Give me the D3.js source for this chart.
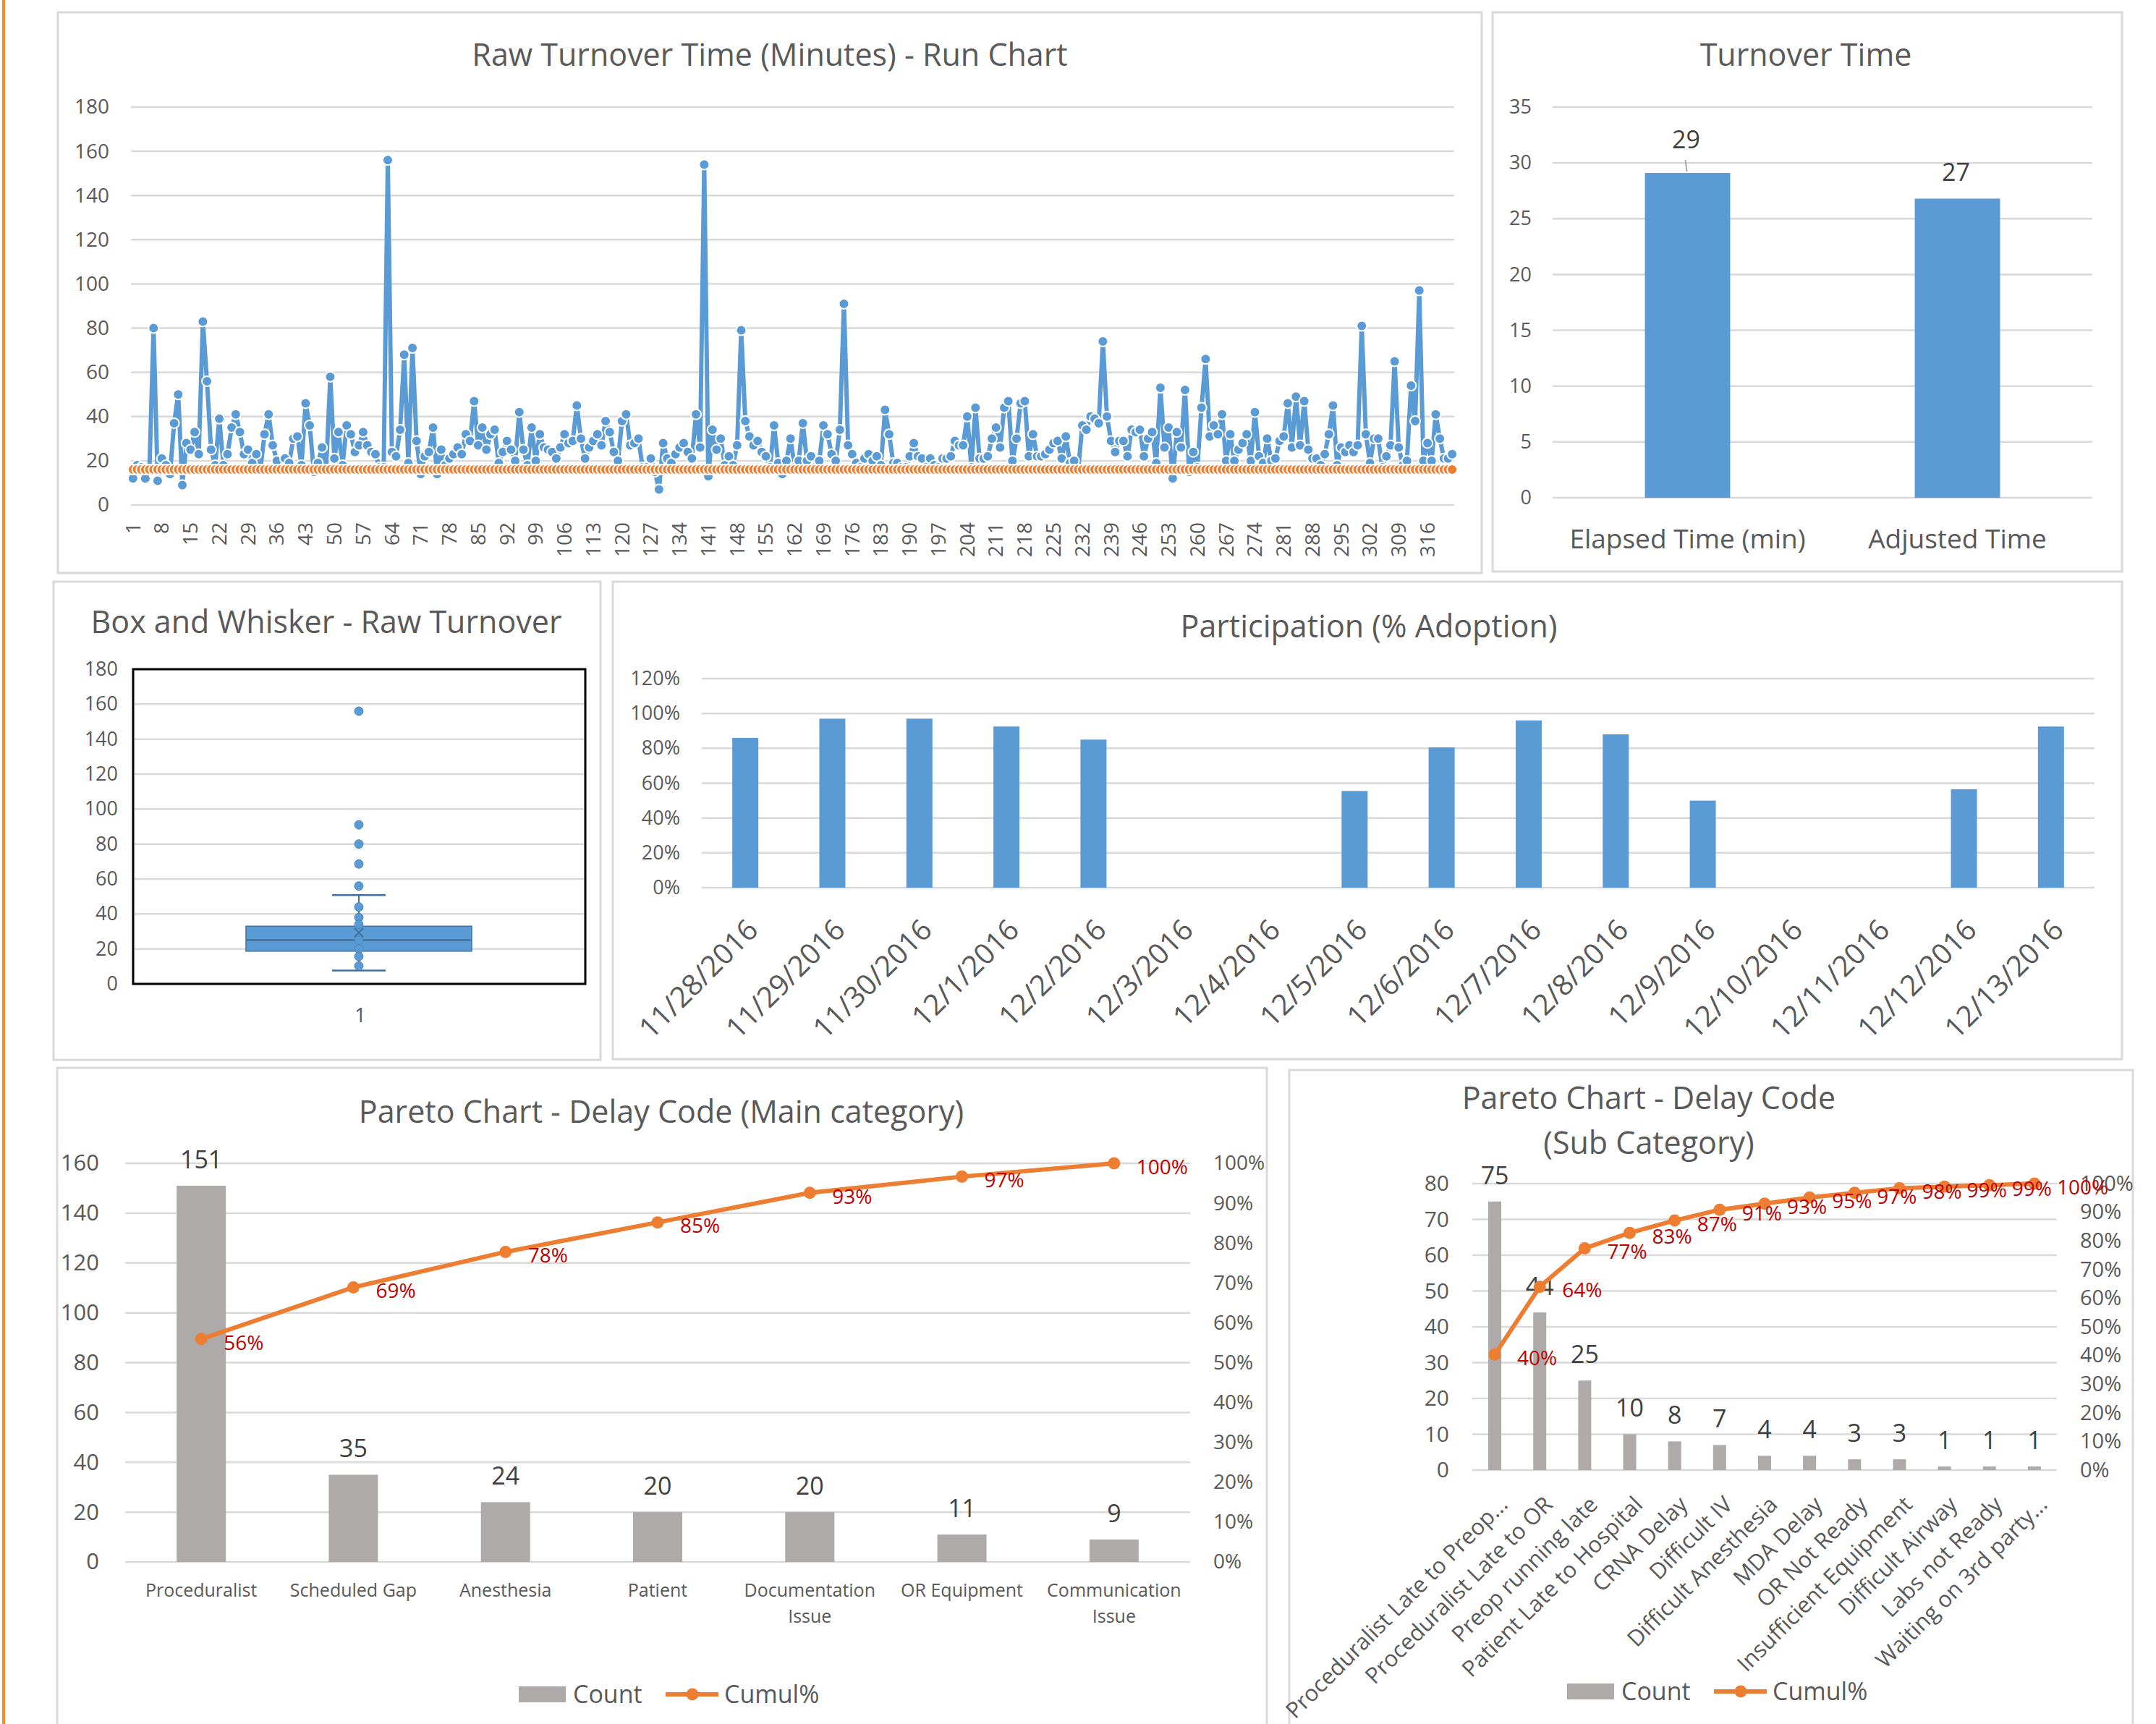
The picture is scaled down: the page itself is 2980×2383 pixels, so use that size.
<!DOCTYPE html>
<html lang="en">
<head>
<meta charset="UTF-8">
<title>Turnover Dashboard</title>
<script src="https://d3js.org/d3.v7.min.js"></script>
<style>
    body { margin: 0; background: #fff; }
    svg text { font-family: "Open Sans", sans-serif; fill: #595959; }
    .title { font-size: 43px; text-anchor: middle; }
    .panel { fill: #fff; stroke: #d9d9d9; stroke-width: 3; }
    .dataLabel { fill: #404040; text-anchor: middle; }
    .pctLabel { fill: #c00000; }
</style>
</head>
<body>
<script>
// ---- data ----
const runValues = [
    12, 18, 17, 12, 16, 80, 11, 21, 18, 14, 37, 50, 9, 28, 25, 33, 23, 83, 56, 25,
    18, 39, 18, 23, 35, 41, 33, 23, 25, 19, 23, 16, 32, 41, 27, 20, 16, 21, 19, 30,
    31, 18, 46, 36, 15, 19, 26, 16, 58, 21, 33, 18, 36, 32, 24, 27, 33, 27, 24, 23,
    17, 17, 156, 24, 22, 34, 68, 19, 71, 29, 14, 22, 24, 35, 14, 25, 18, 21, 23, 26,
    23, 32, 29, 47, 27, 35, 25, 32, 34, 19, 24, 29, 25, 20, 42, 25, 18, 35, 20, 32,
    26, 25, 24, 21, 26, 32, 28, 29, 45, 30, 21, 26, 29, 32, 27, 38, 33, 24, 20, 38,
    41, 27, 28, 30, 17, 17, 21, 15, 7, 28, 21, 19, 23, 26, 28, 24, 21, 41, 26, 154,
    13, 34, 25, 30, 18, 22, 18, 27, 79, 38, 31, 27, 29, 24, 22, 17, 36, 19, 14, 20,
    30, 17, 20, 37, 20, 22, 17, 20, 36, 32, 23, 20, 34, 91, 27, 23, 19, 17, 21, 23,
    20, 22, 18, 43, 32, 19, 19, 17, 17, 22, 28, 22, 21, 17, 21, 18, 17, 21, 21, 22,
    29, 27, 27, 40, 17, 44, 21, 21, 22, 30, 35, 26, 44, 47, 20, 30, 46, 47, 22, 32,
    22, 22, 23, 25, 28, 29, 21, 31, 19, 20, 16, 36, 34, 40, 39, 37, 74, 40, 29, 24,
    29, 29, 22, 34, 33, 34, 22, 30, 33, 19, 53, 26, 35, 12, 33, 26, 52, 15, 24, 17,
    44, 66, 31, 36, 32, 41, 20, 32, 20, 25, 28, 32, 20, 42, 22, 19, 30, 20, 21, 29,
    31, 46, 26, 49, 27, 47, 25, 21, 21, 18, 23, 32, 45, 18, 26, 24, 27, 24, 27, 81,
    32, 19, 30, 30, 17, 22, 27, 65, 26, 18, 20, 54, 38, 97, 20, 28, 20, 41, 30, 21,
    21, 23
];
const runTarget = 16;
const runYTicks = d3.range(0, 181, 20);

const turnoverCats = ["Elapsed Time (min)", "Adjusted Time"];
const turnoverValues = [29.1, 26.8];
const turnoverTicks = d3.range(0, 36, 5);

const boxStats = { low: 7.7, q1: 18.7, median: 25, q3: 33, high: 50.8, mean: 29.4 };
const boxOutliers = [156, 91, 80, 68.6, 56];
const boxInner = [44, 38, 34, 25, 20, 15.7, 10.3];
const boxTicks = d3.range(0, 181, 20);

const partDates = ["11/28/2016", "11/29/2016", "11/30/2016", "12/1/2016", "12/2/2016", "12/3/2016",
    "12/4/2016", "12/5/2016", "12/6/2016", "12/7/2016", "12/8/2016", "12/9/2016", "12/10/2016",
    "12/11/2016", "12/12/2016", "12/13/2016"];
const partValues = [0.86, 0.97, 0.97, 0.925, 0.85, null, null, 0.555, 0.805, 0.96, 0.88, 0.50,
    null, null, 0.565, 0.925];
const partTicks = [0, 0.2, 0.4, 0.6, 0.8, 1.0, 1.2];

const mainCats = ["Proceduralist", "Scheduled Gap", "Anesthesia", "Patient", "Documentation Issue",
    "OR Equipment", "Communication Issue"];
const mainCounts = [151, 35, 24, 20, 20, 11, 9];

const subCats = ["Proceduralist Late to Preop...", "Proceduralist Late to OR", "Preop running late",
    "Patient Late to Hospital", "CRNA Delay", "Difficult IV", "Difficult Anesthesia", "MDA Delay",
    "OR Not Ready", "Insufficient Equipment", "Difficult Airway", "Labs not Ready",
    "Waiting on 3rd party..."];
const subCounts = [75, 44, 25, 10, 8, 7, 4, 4, 3, 3, 1, 1, 1];

const pctTicks = d3.range(11).map(i => i / 10);

// ---- page ----
const W = 2980, H = 2383;
const BLUE = "#5b9bd5", ORANGE = "#ed7d31", GRAY = "#aeaaaa", GRID = "#d9d9d9";

const svg = d3.select("body").append("svg")
    .attr("width", W)
    .attr("height", H)
    .style("display", "block")
    .style("background", "#fff");

svg.append("rect").attr("x", 3).attr("y", 0).attr("width", 4).attr("height", H).attr("fill", "#f5901e");

function panel(x, y, w, h) {
    svg.append("rect").attr("class", "panel").attr("x", x).attr("y", y).attr("width", w).attr("height", h);
}

function title(x, y, lines, gap = 62) {
    lines.forEach((t, i) => {
        svg.append("text").attr("class", "title")
            .attr("x", x).attr("y", y + i * gap).attr("dy", "0.35em").text(t);
    });
}

function grid(scale, ticks, x0, x1) {
    svg.append("g").selectAll("line").data(ticks).join("line")
        .attr("x1", x0).attr("x2", x1)
        .attr("y1", d => scale(d)).attr("y2", d => scale(d))
        .attr("stroke", GRID).attr("stroke-width", 2.5);
}

function styleAxis(g, size) {
    g.attr("font-family", null).attr("font-size", null);
    g.select(".domain").remove();
    g.selectAll("text").style("font-size", size + "px");
    return g;
}

function leftAxis(scale, ticks, x, size, fmt = d3.format("d")) {
    const g = svg.append("g").attr("transform", `translate(${x},0)`)
        .call(d3.axisLeft(scale).tickValues(ticks).tickSize(0).tickPadding(0).tickFormat(fmt));
    return styleAxis(g, size);
}

function rightAxis(scale, ticks, x, size, fmt) {
    const g = svg.append("g").attr("transform", `translate(${x},0)`)
        .call(d3.axisRight(scale).tickValues(ticks).tickSize(0).tickPadding(0).tickFormat(fmt));
    return styleAxis(g, size);
}

// ================= Run chart =================
panel(80, 17, 1968, 775);
title(1064, 76, ["Raw Turnover Time (Minutes) - Run Chart"]);
{
    const xs = d3.scaleBand().domain(runValues.map((d, i) => i + 1)).range([181, 2010]);
    const ys = d3.scaleLinear().domain([0, 180]).range([698, 148]);
    const cx = i => xs(i + 1) + xs.bandwidth() / 2;

    grid(ys, runYTicks, 181, 2010);
    leftAxis(ys, runYTicks, 151, 28);

    const xa = svg.append("g").attr("transform", "translate(0,698)")
        .call(d3.axisBottom(xs).tickSize(0).tickValues(xs.domain().filter(d => (d - 1) % 7 === 0)));
    styleAxis(xa, 28);
    xa.selectAll("text")
        .attr("transform", "rotate(-90)")
        .attr("x", -24).attr("y", 0).attr("dy", "0.35em")
        .style("text-anchor", "end");

    const line = d3.line().x((d, i) => cx(i)).y(d => ys(d));

    svg.append("path").datum(runValues).attr("d", line)
        .attr("fill", "none").attr("stroke", BLUE).attr("stroke-width", 6).attr("stroke-linejoin", "round");
    svg.append("g").selectAll("circle").data(runValues).join("circle")
        .attr("cx", (d, i) => cx(i)).attr("cy", d => ys(d)).attr("r", 7)
        .attr("fill", BLUE).attr("stroke", "#fff").attr("stroke-width", 2);

    const target = runValues.map(() => runTarget);
    svg.append("path").datum(target).attr("d", line)
        .attr("fill", "none").attr("stroke", ORANGE).attr("stroke-width", 6);
    svg.append("g").selectAll("circle").data(target).join("circle")
        .attr("cx", (d, i) => cx(i)).attr("cy", d => ys(d)).attr("r", 7)
        .attr("fill", ORANGE).attr("stroke", "#fff").attr("stroke-width", 2);
}

// ================= Turnover Time =================
panel(2063, 17, 870, 773);
title(2496, 76, ["Turnover Time"]);
{
    const xs = d3.scaleBand().domain(turnoverCats).range([2146, 2892]);
    const ys = d3.scaleLinear().domain([0, 35]).range([688, 148]);
    const bw = xs.bandwidth() * 0.316;

    grid(ys, turnoverTicks, 2146, 2892);
    leftAxis(ys, turnoverTicks, 2117, 27);

    svg.append("g").selectAll("rect").data(turnoverValues).join("rect")
        .attr("x", (d, i) => xs(turnoverCats[i]) + xs.bandwidth() / 2 - bw / 2)
        .attr("y", d => ys(d)).attr("width", bw).attr("height", d => ys(0) - ys(d))
        .attr("fill", BLUE);

    // first label was nudged up in the original, with a leader line
    const lift = [46, 36];
    turnoverValues.forEach((v, i) => {
        const x = xs(turnoverCats[i]) + xs.bandwidth() / 2;
        svg.append("text").attr("class", "dataLabel")
            .attr("x", x - 2).attr("y", ys(v) - lift[i]).attr("dy", "0.35em")
            .style("font-size", "34px").text(d3.format(".0f")(v));
        if (lift[i] > 40) {
            svg.append("line").attr("x1", x - 3).attr("y1", ys(v) - 18).attr("x2", x - 1).attr("y2", ys(v) - 2)
                .attr("stroke", "#a6a6a6").attr("stroke-width", 2);
        }
    });

    svg.append("g").selectAll("text").data(turnoverCats).join("text")
        .attr("x", d => xs(d) + xs.bandwidth() / 2).attr("y", 745).attr("dy", "0.35em")
        .attr("text-anchor", "middle").style("font-size", "37px").text(d => d);
}

// ================= Box and Whisker =================
panel(74, 804, 756, 661);
title(451, 860, ["Box and Whisker - Raw Turnover"]);
{
    const ys = d3.scaleLinear().domain([0, 180]).range([1360, 925]);
    const cx = 496;

    grid(ys, boxTicks, 186, 807);
    svg.append("rect").attr("x", 184).attr("y", 925).attr("width", 625).attr("height", 435)
        .attr("fill", "none").attr("stroke", "#000").attr("stroke-width", 3);
    leftAxis(ys, boxTicks, 163, 27);

    // whiskers
    svg.append("line").attr("x1", cx).attr("x2", cx).attr("y1", ys(boxStats.high)).attr("y2", ys(boxStats.low))
        .attr("stroke", "#41719c").attr("stroke-width", 2);
    [boxStats.high, boxStats.low].forEach(v => {
        svg.append("line").attr("x1", cx - 37).attr("x2", cx + 37).attr("y1", ys(v)).attr("y2", ys(v))
            .attr("stroke", "#41719c").attr("stroke-width", 2.5);
    });
    svg.append("rect").attr("x", 340).attr("y", ys(boxStats.q3)).attr("width", 312)
        .attr("height", ys(boxStats.q1) - ys(boxStats.q3))
        .attr("fill", BLUE).attr("stroke", "#41719c").attr("stroke-width", 1.5);
    svg.append("line").attr("x1", 340).attr("x2", 652).attr("y1", ys(boxStats.median)).attr("y2", ys(boxStats.median))
        .attr("stroke", "#41719c").attr("stroke-width", 2.5);

    svg.append("g").selectAll("circle").data(boxInner.concat(boxOutliers)).join("circle")
        .attr("cx", cx).attr("cy", d => ys(d)).attr("r", 6)
        .attr("fill", BLUE).attr("stroke", "#4a86c0").attr("stroke-width", 1);
    const m = ys(boxStats.mean);
    svg.append("path").attr("d", `M${cx - 6},${m - 6}L${cx + 6},${m + 6}M${cx - 6},${m + 6}L${cx + 6},${m - 6}`)
        .attr("stroke", "#41719c").attr("stroke-width", 2);

    svg.append("text").attr("x", 498).attr("y", 1403).attr("dy", "0.35em")
        .attr("text-anchor", "middle").style("font-size", "28px").text("1");
}

// ================= Participation =================
panel(847, 804, 2086, 660);
title(1892, 866, ["Participation (% Adoption)"]);
{
    const xs = d3.scaleBand().domain(partDates).range([970, 2895]);
    const ys = d3.scaleLinear().domain([0, 1.2]).range([1227, 938]);
    const bw = 36;

    grid(ys, partTicks, 970, 2895);
    leftAxis(ys, partTicks, 940, 27, d3.format(".0%"));

    svg.append("g").selectAll("rect").data(partValues.map((v, i) => ({ v, d: partDates[i] })).filter(o => o.v != null))
        .join("rect")
        .attr("x", o => xs(o.d) + xs.bandwidth() / 2 - bw / 2).attr("y", o => ys(o.v))
        .attr("width", bw).attr("height", o => ys(0) - ys(o.v)).attr("fill", BLUE);

    svg.append("g").selectAll("text").data(partDates).join("text")
        .attr("transform", d => `translate(${xs(d) + xs.bandwidth() / 2 + 10},1278) rotate(-45)`)
        .attr("dy", "0.35em").attr("text-anchor", "end").style("font-size", "40px").text(d => d);
}

// ================= Pareto charts =================
function pareto(c) {
    const xs = d3.scaleBand().domain(c.cats).range([c.x0, c.x1]);
    const yl = d3.scaleLinear().domain([0, c.max]).range([c.y0, c.y1]);
    const yr = d3.scaleLinear().domain([0, 1]).range([c.y0, c.y1]);
    const total = d3.sum(c.counts);
    const cum = Array.from(d3.cumsum(c.counts), v => v / total);
    const mid = d => xs(d) + xs.bandwidth() / 2;

    grid(yl, c.ticks, c.x0, c.x1);
    leftAxis(yl, c.ticks, c.leftX, c.tickSize);
    rightAxis(yr, pctTicks, c.rightX, c.pctSize, d3.format(".0%"));

    svg.append("g").selectAll("rect").data(c.counts).join("rect")
        .attr("x", (d, i) => mid(c.cats[i]) - c.bw / 2).attr("y", d => yl(d))
        .attr("width", c.bw).attr("height", d => c.y0 - yl(d)).attr("fill", GRAY);

    svg.append("g").selectAll("text").data(c.counts).join("text")
        .attr("class", "dataLabel")
        .attr("x", (d, i) => mid(c.cats[i])).attr("y", d => yl(d) - 36).attr("dy", "0.35em")
        .style("font-size", "34px").text(d => d);

    const line = d3.line().x((d, i) => mid(c.cats[i])).y(d => yr(d));
    svg.append("path").datum(cum).attr("d", line)
        .attr("fill", "none").attr("stroke", ORANGE).attr("stroke-width", 6).attr("stroke-linejoin", "round");
    svg.append("g").selectAll("circle").data(cum).join("circle")
        .attr("cx", (d, i) => mid(c.cats[i])).attr("cy", d => yr(d)).attr("r", 8.5).attr("fill", ORANGE);
    svg.append("g").selectAll("text").data(cum).join("text")
        .attr("class", "pctLabel")
        .attr("x", (d, i) => mid(c.cats[i]) + 31).attr("y", d => yr(d) + 5).attr("dy", "0.35em")
        .style("font-size", "28px").text(d3.format(".0%"));

    // legend
    const L = c.legend;
    svg.append("rect").attr("x", L.x).attr("y", L.y - 11).attr("width", 65).attr("height", 22).attr("fill", GRAY);
    svg.append("text").attr("x", L.x + 75).attr("y", L.y).attr("dy", "0.35em").style("font-size", "34px").text("Count");
    svg.append("line").attr("x1", L.x + 203).attr("x2", L.x + 276).attr("y1", L.y).attr("y2", L.y)
        .attr("stroke", ORANGE).attr("stroke-width", 6);
    svg.append("circle").attr("cx", L.x + 240).attr("cy", L.y).attr("r", 8.5).attr("fill", ORANGE);
    svg.append("text").attr("x", L.x + 284).attr("y", L.y).attr("dy", "0.35em").style("font-size", "34px").text("Cumul%");

    return { xs, mid };
}

panel(79, 1476, 1672, 940);
title(914, 1537, ["Pareto Chart - Delay Code (Main category)"]);
{
    const p = pareto({
        cats: mainCats, counts: mainCounts, max: 160, ticks: d3.range(0, 161, 20),
        x0: 173, x1: 1645, y0: 2159, y1: 1608, bw: 68,
        leftX: 137, rightX: 1677, tickSize: 31, pctSize: 28,
        legend: { x: 717, y: 2342 }
    });
    mainCats.forEach(name => {
        const t = svg.append("text").attr("x", p.mid(name)).attr("y", 2198).attr("dy", "0.35em")
            .attr("text-anchor", "middle").style("font-size", "25px").text(name);
        if (t.node().getComputedTextLength() > 205) {
            const words = name.split(" ");
            t.text(words.slice(0, -1).join(" "));
            svg.append("text").attr("x", p.mid(name)).attr("y", 2234).attr("dy", "0.35em")
                .attr("text-anchor", "middle").style("font-size", "25px").text(words[words.length - 1]);
        }
    });
}

panel(1782, 1479, 1166, 940);
title(2279, 1518, ["Pareto Chart - Delay Code", "(Sub Category)"]);
{
    const p = pareto({
        cats: subCats, counts: subCounts, max: 80, ticks: d3.range(0, 81, 10),
        x0: 2035, x1: 2843, y0: 2032, y1: 1636, bw: 18,
        leftX: 2003, rightX: 2875, tickSize: 30, pctSize: 29,
        legend: { x: 2166, y: 2338 }
    });
    svg.append("g").selectAll("text").data(subCats).join("text")
        .attr("transform", d => `translate(${p.mid(d) + 12},2074) rotate(-45)`)
        .attr("dy", "0.35em").attr("text-anchor", "end").style("font-size", "31px").text(d => d);
}
</script>
</body>
</html>
